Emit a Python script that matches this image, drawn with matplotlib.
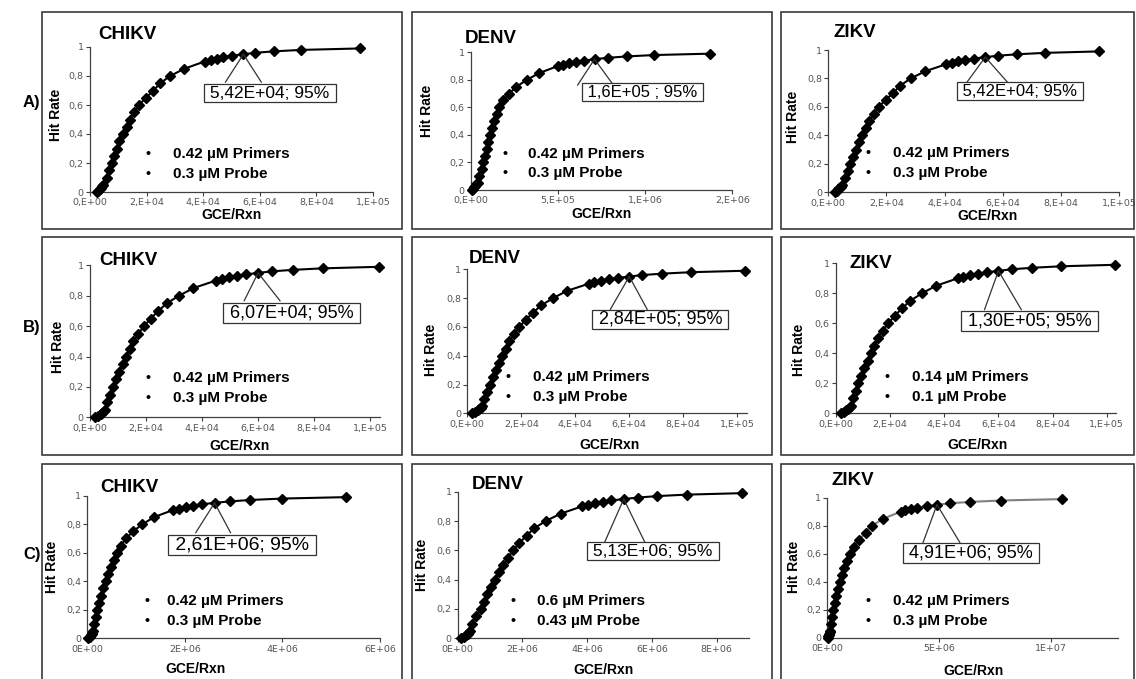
import matplotlib.pyplot as plt
from matplotlib.patches import Rectangle

plt.rcParams['font.family'] = ['Liberation Sans', 'DejaVu Sans']

W, H = 1136, 679

hit_rate = [0, 0.01, 0.02, 0.03, 0.04, 0.05, 0.1, 0.15, 0.2, 0.25, 0.3, 0.35, 0.4, 0.45,
            0.5, 0.55, 0.6, 0.65, 0.7, 0.75, 0.8, 0.85, 0.9, 0.91, 0.92, 0.93, 0.94,
            0.95, 0.96, 0.97, 0.98, 0.99]

# GCE/Rxn, in the unit of that panel's x axis
chikv_a = [0.24, 0.30, 0.34, 0.38, 0.42, 0.47, 0.59, 0.68, 0.76, 0.85, 0.94, 1.04, 1.17, 1.29,
           1.41, 1.56, 1.73, 1.98, 2.24, 2.48, 2.83, 3.33, 4.05, 4.26, 4.47, 4.71, 5.01,
           5.42, 5.84, 6.5, 7.46, 9.53]   # x 1E+04
denv_a = [0.06, 0.14, 0.21, 0.27, 0.33, 0.4, 0.5, 0.62, 0.73, 0.83, 0.92, 1.02, 1.12, 1.23,
          1.35, 1.49, 1.65, 1.88, 2.2, 2.62, 3.22, 3.94, 5.0, 5.3, 5.63, 6.02, 6.5,
          7.1, 7.86, 8.95, 10.5, 13.7]    # x 1E+05
zikv_a = [0.24, 0.30, 0.34, 0.38, 0.42, 0.47, 0.59, 0.68, 0.76, 0.85, 0.94, 1.04, 1.17, 1.29,
          1.41, 1.56, 1.73, 1.98, 2.24, 2.48, 2.83, 3.33, 4.05, 4.26, 4.47, 4.71, 5.01,
          5.4, 5.84, 6.5, 7.46, 9.3]      # x 1E+04
chikv_b = [0.18, 0.3, 0.38, 0.44, 0.5, 0.55, 0.62, 0.73, 0.83, 0.94, 1.05, 1.17, 1.29, 1.42,
           1.55, 1.72, 1.93, 2.17, 2.44, 2.74, 3.18, 3.69, 4.5, 4.7, 4.95, 5.24, 5.57,
           6.0, 6.49, 7.23, 8.3, 10.3]    # x 1E+04
denv_b = [0.18, 0.3, 0.38, 0.44, 0.5, 0.55, 0.62, 0.73, 0.83, 0.94, 1.05, 1.17, 1.29, 1.42,
          1.55, 1.72, 1.93, 2.17, 2.44, 2.74, 3.18, 3.69, 4.5, 4.7, 4.95, 5.24, 5.57,
          6.0, 6.49, 7.23, 8.3, 10.3]     # x 1E+04
zikv_b = [0.18, 0.3, 0.38, 0.44, 0.5, 0.55, 0.62, 0.73, 0.83, 0.94, 1.05, 1.17, 1.29, 1.42,
          1.55, 1.72, 1.93, 2.17, 2.44, 2.74, 3.18, 3.69, 4.5, 4.7, 4.95, 5.24, 5.57,
          6.0, 6.49, 7.23, 8.3, 10.3]     # x 1E+04
chikv_c = [0.02, 0.05, 0.07, 0.09, 0.1, 0.11, 0.14, 0.17, 0.19, 0.24, 0.29, 0.33, 0.38, 0.43,
           0.48, 0.54, 0.61, 0.69, 0.79, 0.94, 1.13, 1.37, 1.76, 1.88, 2.02, 2.17, 2.36,
           2.61, 2.92, 3.34, 4.0, 5.31]   # x 1E+06
denv_c = [0.1, 0.2, 0.26, 0.31, 0.35, 0.38, 0.43, 0.58, 0.71, 0.82, 0.92, 1.03, 1.15, 1.28,
          1.41, 1.55, 1.72, 1.9, 2.13, 2.36, 2.72, 3.18, 3.84, 4.03, 4.24, 4.48, 4.75,
          5.13, 5.56, 6.16, 7.07, 8.77]   # x 1E+06
zikv_c = [0.02, 0.05, 0.07, 0.09, 0.1, 0.12, 0.17, 0.21, 0.25, 0.33, 0.4, 0.48, 0.57, 0.66,
          0.75, 0.86, 1.0, 1.2, 1.42, 1.72, 1.99, 2.51, 3.28, 3.5, 3.73, 4.03, 4.48,
          4.91, 5.49, 6.39, 7.76, 10.5]   # x 1E+06

titles = ['CHIKV', 'DENV', 'ZIKV', 'CHIKV', 'DENV', 'ZIKV', 'CHIKV', 'DENV', 'ZIKV']
callouts = ['5,42E+04; 95%', '1,6E+05 ; 95%', '5,42E+04; 95%',
            '6,07E+04; 95%', '2,84E+05; 95%', '1,30E+05; 95%',
            '2,61E+06; 95%', '5,13E+06; 95%', '4,91E+06; 95%']
primers = ['0.42 µM Primers', '0.42 µM Primers', '0.42 µM Primers',
           '0.42 µM Primers', '0.42 µM Primers', '0.14 µM Primers',
           '0.42 µM Primers', '0.6 µM Primers', '0.42 µM Primers']
probes = ['0.3 µM Probe', '0.3 µM Probe', '0.3 µM Probe',
          '0.3 µM Probe', '0.3 µM Probe', '0.1 µM Probe',
          '0.3 µM Probe', '0.43 µM Probe', '0.3 µM Probe']
row_labels = ['A)', 'B)', 'C)']

ticks_e4 = [0, 2, 4, 6, 8, 10]
labels_e4 = ['0,E+00', '2,E+04', '4,E+04', '6,E+04', '8,E+04', '1,E+05']
ticks_denv_a = [0, 5, 10, 15]
labels_denv_a = ['0,E+00', '5,E+05', '1,E+06', '2,E+06']
ticks_chikv_c = [0, 2, 4, 6]
labels_chikv_c = ['0E+00', '2E+06', '4E+06', '6E+06']
ticks_denv_c = [0, 2, 4, 6, 8]
labels_denv_c = ['0E+00', '2E+06', '4E+06', '6E+06', '8E+06']
ticks_zikv_c = [0, 5, 10]
labels_zikv_c = ['0E+00', '5E+06', '1E+07']
y_ticks = [0, 0.2, 0.4, 0.6, 0.8, 1]
y_labels = ['0', '0,2', '0,4', '0,6', '0,8', '1']

series = [chikv_a, denv_a, zikv_a, chikv_b, denv_b, zikv_b, chikv_c, denv_c, zikv_c]
xticks = [(ticks_e4, labels_e4), (ticks_denv_a, labels_denv_a), (ticks_e4, labels_e4),
          (ticks_e4, labels_e4), (ticks_e4, labels_e4), (ticks_e4, labels_e4),
          (ticks_chikv_c, labels_chikv_c), (ticks_denv_c, labels_denv_c),
          (ticks_zikv_c, labels_zikv_c)]

# layout in pixels: axes box, x max, title, y label, x label, bullets, callout
layout = [
    dict(ax=(90, 373, 47, 192), xmax=10, title=(98, 39), ylab=(56, 115), xlab=(232, 215),
         bul=(148, 173, 158, 178), call=(26.5, 39, 28, -18, 18, 12.5)),
    dict(ax=(470.7, 732.3, 52.3, 190), xmax=15, title=(465, 43), ylab=(427, 111), xlab=(602, 214),
         bul=(505, 528, 158, 177), call=(48, 33, 26, -17, 19, 12)),
    dict(ax=(828.3, 1119, 50, 192.3), xmax=10, title=(833, 37), ylab=(793, 117), xlab=(988, 216),
         bul=(868, 893, 157, 177), call=(35, 34, 26, -19, 23, 12)),
    dict(ax=(90, 380, 265.3, 417.3), xmax=10.35, title=(99, 265), ylab=(58, 347), xlab=(240, 446),
         bul=(148, 173, 382, 402), call=(33.5, 40, 28, -14, 22, 13)),
    dict(ax=(467.3, 746.7, 269.3, 413.3), xmax=10.35, title=(469, 263), ylab=(431, 350),
         xlab=(610, 445), bul=(508, 533, 381, 401), call=(31, 43, 33, -19, 18, 13)),
    dict(ax=(836, 1116.2, 263.3, 413.3), xmax=10.35, title=(849, 268), ylab=(799, 350),
         xlab=(978, 445), bul=(887, 912, 381, 401), call=(31, 50, 39, -14, 23, 13)),
    dict(ax=(87.3, 380, 495.7, 638.3), xmax=6, title=(100, 492), ylab=(52.5, 567), xlab=(195, 669),
         bul=(147, 167, 605, 625), call=(27.5, 42, 30, -19, 16, 14)),
    dict(ax=(457.7, 749, 491.7, 638.3), xmax=9, title=(472, 489), ylab=(422.5, 565),
         xlab=(603, 670), bul=(513, 537, 605, 625), call=(29, 52, 43, -19, 21, 12.5)),
    dict(ax=(827.3, 1117.7, 497.7, 637.7), xmax=13, title=(832, 485), ylab=(794, 567),
         xlab=(973, 671), bul=(868, 893, 605, 625), call=(34, 48, 38, -14, 23, 13)),
]

fig = plt.figure(figsize=(W / 100, H / 100), dpi=100)
fig.patch.set_facecolor('white')


def fx(x):
    return x / W


def fy(y):
    return 1 - y / H


# panel frames
cols = [(42, 402), (412, 772), (781, 1134)]
rows = [(12, 229), (237, 455), (464, 690)]
for (r0, r1) in rows:
    for (c0, c1) in cols:
        fig.patches.append(Rectangle((fx(c0), fy(r1)), (c1 - c0) / W, (r1 - r0) / H,
                                     transform=fig.transFigure, fill=False,
                                     ec='#3a3a3a', lw=1.2))

for lab, yc in zip(row_labels, [103, 327, 554]):
    fig.text(fx(23), fy(yc), lab, fontsize=12, fontweight='bold', ha='left', va='center')

px_pt = 0.72  # one pixel in points at 100 dpi

for i in range(9):
    L = layout[i]
    x0, x1, yt, yb = L['ax']
    ax = fig.add_axes([fx(x0), fy(yb), (x1 - x0) / W, (yb - yt) / H])
    ax.patch.set_alpha(0)
    xs = series[i]
    line_col = '#808080' if i == 8 else 'black'
    ax.plot(xs, hit_rate, color=line_col, lw=1.5, zorder=2, clip_on=False)
    ax.plot(xs, hit_rate, ls='none', marker='D', ms=4.6, color='black', zorder=3, clip_on=False)
    ax.set_xlim(0, L['xmax'])
    ax.set_ylim(0, 1)
    for s in ['top', 'right']:
        ax.spines[s].set_visible(False)
    for s in ['left', 'bottom']:
        ax.spines[s].set_color('#404040')
        ax.spines[s].set_linewidth(0.9)
    tk, tl = xticks[i]
    ax.set_xticks(tk)
    ax.set_xticklabels(tl, fontfamily='DejaVu Sans', fontsize=6.8, color='#555555')
    ax.set_yticks(y_ticks)
    ax.set_yticklabels(y_labels, fontfamily='DejaVu Sans', fontsize=6.8, color='#555555')
    ax.tick_params(length=3, width=0.8, color='#404040', pad=1.5)

    # callout at the 95 % point
    xp = xs[hit_rate.index(0.95)]
    dx, dy, top, fl, fr, fs = L['call']
    for f in (fl, fr):
        ax.annotate('', xy=(xp, 0.95), xytext=(f * px_pt, -top * px_pt),
                    textcoords='offset points', annotation_clip=False,
                    arrowprops=dict(arrowstyle='-', color='#333333', lw=0.9,
                                    shrinkA=0, shrinkB=0), zorder=4)
    ax.annotate(' ' + callouts[i] + ' ', xy=(xp, 0.95), xytext=(dx * px_pt, -dy * px_pt),
                textcoords='offset points', ha='center', va='center', fontsize=fs,
                annotation_clip=False, zorder=5,
                bbox=dict(boxstyle='square,pad=0.08', fc='white', ec='#333333', lw=0.9))

    tx, ty = L['title']
    fig.text(fx(tx), fy(ty), titles[i], fontsize=13.5, fontweight='bold', ha='left',
             va='baseline')
    lx, ly = L['ylab']
    fig.text(fx(lx), fy(ly), 'Hit Rate', fontsize=10, fontweight='bold', rotation=90,
             ha='center', va='center')
    gx, gy = L['xlab']
    fig.text(fx(gx), fy(gy), 'GCE/Rxn', fontsize=10, fontweight='bold', ha='center',
             va='center')
    bx, btx, b1, b2 = L['bul']
    for text, by in ((primers[i], b1), (probes[i], b2)):
        fig.text(fx(bx), fy(by), '•', fontsize=10, fontweight='bold', ha='center',
                 va='baseline')
        fig.text(fx(btx), fy(by), text, fontsize=11, fontweight='bold', ha='left',
                 va='baseline')

fig.savefig('out.png', dpi=100)
